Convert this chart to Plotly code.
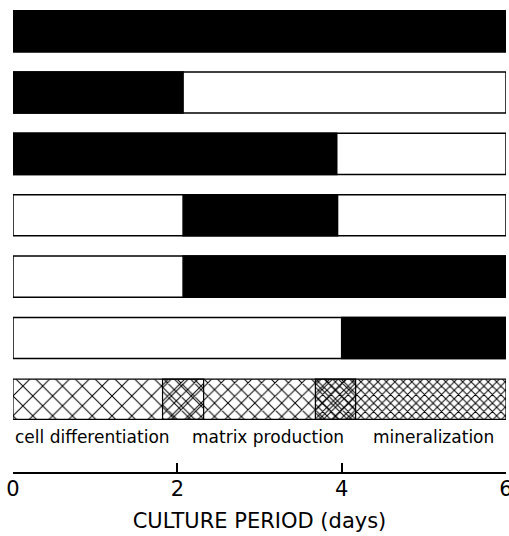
import plotly.graph_objects as go

# ---- data (days) ----
rows = [0, 1, 2, 3, 4, 5]                 # six treatment schedules (top to bottom)
black_start = [0, 0, 0, 2.07, 2.07, 4.0]  # start of black (treated) interval
black_end = [6, 2.07, 3.94, 3.95, 6, 6]   # end of black interval
frame_start = [0, 0, 0, 0, 0, 0]
frame_end = [6, 6, 6, 6, 6, 6]

phase_names = ["cell differentiation", "matrix production", "mineralization"]
phase_start = [0, 1.82, 3.68]
phase_end = [2.32, 4.17, 6]
phase_label_x = [0.97, 3.1, 5.12]
phase_row = 6
label_row = 6.62

tick_vals = [0, 2, 4, 6]
tick_text = ["0", "2", "4", "6"]

hatch_size = [14, 9.5, 6]
hatch_solidity = [0.14, 0.2, 0.3]

FONT = "DejaVu Sans"
BAR_W = 0.67

fig = go.Figure()

# white frames
fig.add_trace(go.Bar(
    y=rows, x=[e - s for s, e in zip(frame_start, frame_end)], base=frame_start,
    orientation="h", width=BAR_W, cliponaxis=False,
    marker=dict(color="white", line=dict(color="black", width=1.5)),
    showlegend=False, hoverinfo="skip"))

# black intervals
fig.add_trace(go.Bar(
    y=rows, x=[e - s for s, e in zip(black_start, black_end)], base=black_start,
    orientation="h", width=BAR_W, cliponaxis=False,
    marker=dict(color="black", line=dict(color="black", width=1.5)),
    showlegend=False, hoverinfo="skip"))

# hatched phases
for name, s, e, sz, so in zip(phase_names, phase_start, phase_end, hatch_size, hatch_solidity):
    fig.add_trace(go.Bar(
        y=[phase_row], x=[e - s], base=[s], orientation="h", width=0.655,
        cliponaxis=False, name=name,
        marker=dict(color="rgba(0,0,0,0)",
                    line=dict(color="black", width=1.2),
                    pattern=dict(shape="x", size=sz, solidity=so,
                                 fgcolor="black", bgcolor="rgba(0,0,0,0)",
                                 fillmode="replace")),
        showlegend=False, hoverinfo="skip"))

for name, lx in zip(phase_names, phase_label_x):
    fig.add_annotation(x=lx, y=label_row, text=name, showarrow=False,
                       font=dict(family=FONT, size=17, color="black"),
                       xanchor="center", yanchor="middle")

fig.update_layout(
    width=509, height=536,
    margin=dict(l=13, r=3, t=0, b=64, autoexpand=False),
    barmode="overlay",
    paper_bgcolor="white", plot_bgcolor="white",
    xaxis=dict(range=[0, 6], tickvals=tick_vals, ticktext=tick_text,
               automargin=False, ticklabeloverflow="allow",
               showline=True, linecolor="black", linewidth=2,
               ticks="inside", ticklen=9, tickwidth=2, tickcolor="black",
               showgrid=False, zeroline=False, ticklabelstandoff=-3,
               tickfont=dict(family=FONT, size=21, color="black"),
               title=dict(text="CULTURE PERIOD (days)",
                          font=dict(family=FONT, size=21, color="black"),
                          standoff=13)),
    yaxis=dict(range=[7.185, -0.509], visible=False),
)

# remove the default page margin so the figure fills the window exactly
fig.write_html("out.html",
               config={"displayModeBar": False},
               post_script="document.body.style.margin='0';document.body.style.overflow='hidden';")
